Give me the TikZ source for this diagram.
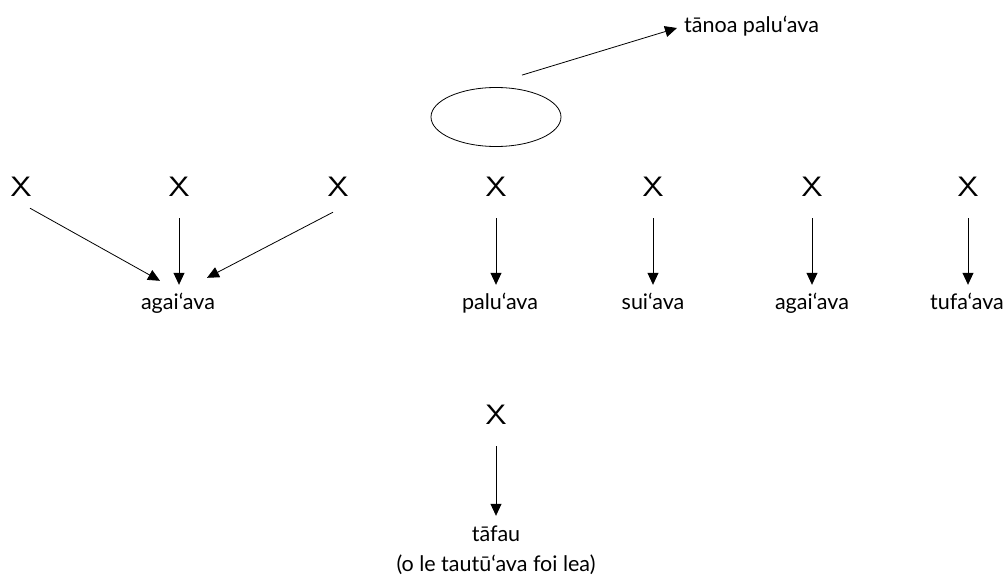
\documentclass[tikz,border=0pt]{standalone}
\usepackage{fontspec}
\setmainfont{Lato}
\usetikzlibrary{positioning, arrows.meta, shapes.geometric}

\begin{document}
\begin{tikzpicture}[x=1pt,y=-1pt,
        xmark/.style={font=\sffamily\fontsize{28}{28}\selectfont, text height=20pt, text depth=0pt, inner xsep=0pt, inner ysep=21pt},
        word/.style={font=\fontsize{21.5}{25}\selectfont, text height=15pt, text depth=5pt, inner xsep=0pt, inner ysep=10pt},
        arr/.style={line width=0.8pt, -{Triangle[length=12pt,width=11pt]}}]
        \useasboundingbox (0,0) rectangle (1005,577);
        \node[draw, ellipse, line width=0.8pt, minimum width=130pt, minimum height=59pt] (oval) at (496,117) {};
        \node[word, anchor=west] (tanoa) at (684,28) {tānoa palu‘ava};
        \draw[arr] ([xshift=26pt,yshift=12pt]oval.north) -- ([xshift=-7pt]tanoa.west);
        \foreach \n/\x in {1/21, 2/179, 3/338, 4/496, 5/653, 6/812, 7/968} {
            \node[xmark] (x\n) at (\x,187) {\scalebox{1.2}[1]{X}};
        }
        \node[word] (agai1) at (178,305) {agai‘ava};
        \node[word] (palu) at (500,305) {palu‘ava};
        \node[word] (sui) at (653,305) {sui‘ava};
        \node[word] (agai2) at (812,305) {agai‘ava};
        \node[word] (tufa) at (967,305) {tufa‘ava};
        \draw[arr] ([xshift=9pt,yshift=10pt]x1.south) -- ([xshift=-18pt,yshift=4pt]agai1.north);
        \draw[arr] (x2.south) -- (x2.south |- agai1.north);
        \draw[arr] ([xshift=-5pt,yshift=6pt]x3.south) -- ([xshift=29pt,yshift=7pt]agai1.north);
        \foreach \a/\b in {x4/palu, x5/sui, x6/agai2, x7/tufa} {
            \draw[arr] (\a.south) -- (\a.south |- \b.north);
        }
        \node[xmark] (x8) at (496,415) {\scalebox{1.2}[1]{X}};
        \node[word] (tafau) at (496,536) {tāfau};
        \node[word, below=-10pt of tafau] (note) {(o le tautū‘ava foi lea)};
        \draw[arr] (x8) -- (tafau);
    \end{tikzpicture}
\end{document}
